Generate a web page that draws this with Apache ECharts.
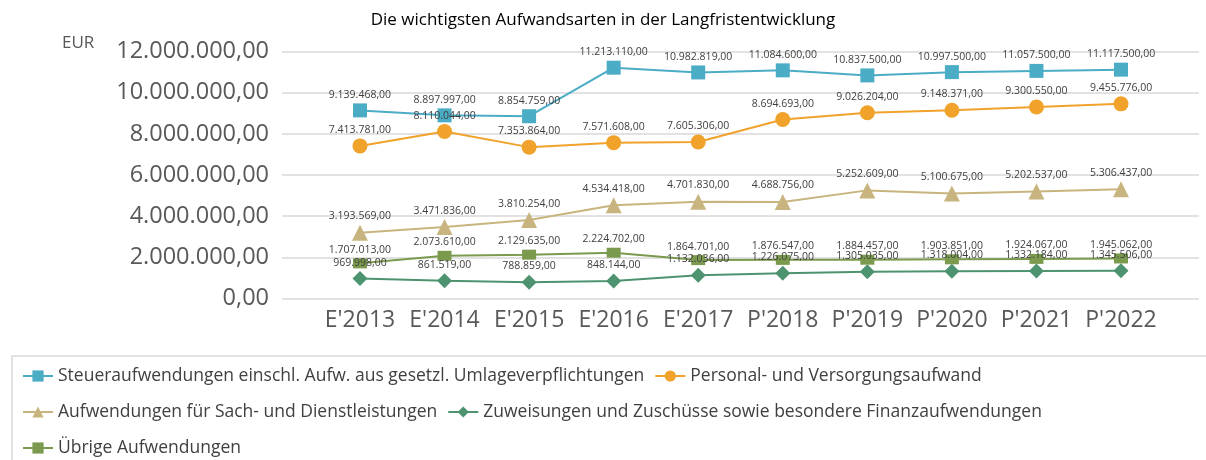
<!DOCTYPE html>
<html>
<head>
<meta charset="utf-8">
<script src="https://cdn.jsdelivr.net/npm/echarts@6/dist/echarts.min.js"></script>
<style>html,body{margin:0;padding:0;background:#fff}#c{width:1206px;height:460px}</style>
</head>
<body>
<div id="c"></div>
<script>
const categories = ["E'2013","E'2014","E'2015","E'2016","E'2017","P'2018","P'2019","P'2020","P'2021","P'2022"];
const seriesNames = [
  "Steueraufwendungen einschl. Aufw. aus gesetzl. Umlageverpflichtungen",
  "Personal- und Versorgungsaufwand",
  "Aufwendungen für Sach- und Dienstleistungen",
  "Zuweisungen und Zuschüsse sowie besondere Finanzaufwendungen",
  "Übrige Aufwendungen"
];
const steuer = [9139468, 8897997, 8854759, 11213110, 10982819, 11084600, 10837500, 10997500, 11057500, 11117500];
const personal = [7413781, 8110044, 7353864, 7571608, 7605306, 8694693, 9026204, 9148371, 9300550, 9455776];
const sach = [3193569, 3471836, 3810254, 4534418, 4701830, 4688756, 5252609, 5100675, 5202537, 5306437];
const zuweisungen = [969998, 861519, 788859, 848144, 1132036, 1226075, 1305035, 1318004, 1332184, 1345506];
const uebrige = [1707013, 2073610, 2129635, 2224702, 1864701, 1876547, 1884457, 1903851, 1924067, 1945062];
const yMin = 0, yMax = 12000000, yStep = 2000000;

function fmt(v){
  const s = Math.round(v).toString().replace(/\B(?=(\d{3})+(?!\d))/g, '.');
  return s + ',00';
}
const FONT = 'Open Sans';
const colors = ['#4BACC6','#F0A22A','#C8B47E','#4E9370','#7B9A4E'];
const symbols = ['rect','circle','triangle','diamond','rect'];
const sizes = [14,15,16,15,[14,10]];
const datas = [steuer, personal, sach, zuweisungen, uebrige];

const series = datas.map((d,i)=>({
  name: seriesNames[i], type:'line', xAxisIndex:1, yAxisIndex:1,
  data: d, symbol: symbols[i], symbolSize: sizes[i], showAllSymbol:true,
  lineStyle:{color:colors[i], width:2},
  itemStyle:{color:colors[i], borderWidth:0},
  label:{show:true, position:'top', distance:3, formatter:p=>fmt(p.value), fontFamily:FONT, fontSize:10.5, color:'#404040'},
  emphasis:{disabled:true}, animation:false, z: 2
}));

const legendCommon = {itemWidth:30, itemHeight:14, itemGap:10, textStyle:{fontFamily:FONT, fontSize:17.5, color:'#404040'}, left:17, orient:'horizontal'};

const chart = echarts.init(document.getElementById('c'));
chart.setOption({
  animation:false,
  title:{text:'Die wichtigsten Aufwandsarten in der Langfristentwicklung', left:'center', top:7, textStyle:{fontFamily:FONT, fontSize:17, fontWeight:'normal', color:'#000'}},
  grid:[
    {left:282, right:7, top:51.5, bottom:161.5},
    {left:317.7, right:42.7, top:51.5, bottom:161.5}
  ],
  xAxis:[
    {gridIndex:0, type:'category', data:categories, show:false},
    {gridIndex:1, type:'category', data:categories, boundaryGap:true,
      axisLine:{show:false}, axisTick:{show:false},
      axisLabel:{interval:0, fontFamily:FONT, fontSize:23, color:'#595959', margin:10}}
  ],
  yAxis:[
    {gridIndex:0, type:'value', min:yMin, max:yMax, interval:yStep,
      axisLine:{show:false}, axisTick:{show:false},
      splitLine:{lineStyle:{color:'#D9D9D9', width:1.5}},
      axisLabel:{formatter:v=>fmt(v), fontFamily:FONT, fontSize:23.5, color:'#595959', margin:13}},
    {gridIndex:1, type:'value', min:yMin, max:yMax, interval:yStep, show:false, splitLine:{show:false}}
  ],
  legend:[
    Object.assign({}, legendCommon, {top:362, data:[seriesNames[0], seriesNames[1]]}),
    Object.assign({}, legendCommon, {top:398, data:[seriesNames[2], seriesNames[3]]}),
    Object.assign({}, legendCommon, {top:434, data:[seriesNames[4]]})
  ],
  graphic:[
    {type:'text', left:62, top:35, style:{text:'EUR', fontFamily:FONT, fontSize:17, fill:'#595959'}},
    {type:'rect', shape:{x:12, y:356, width:1220, height:140}, style:{fill:'none', stroke:'#D9D9D9', lineWidth:1.5}, z:-1}
  ],
  series: series
});
</script>
</body>
</html>
